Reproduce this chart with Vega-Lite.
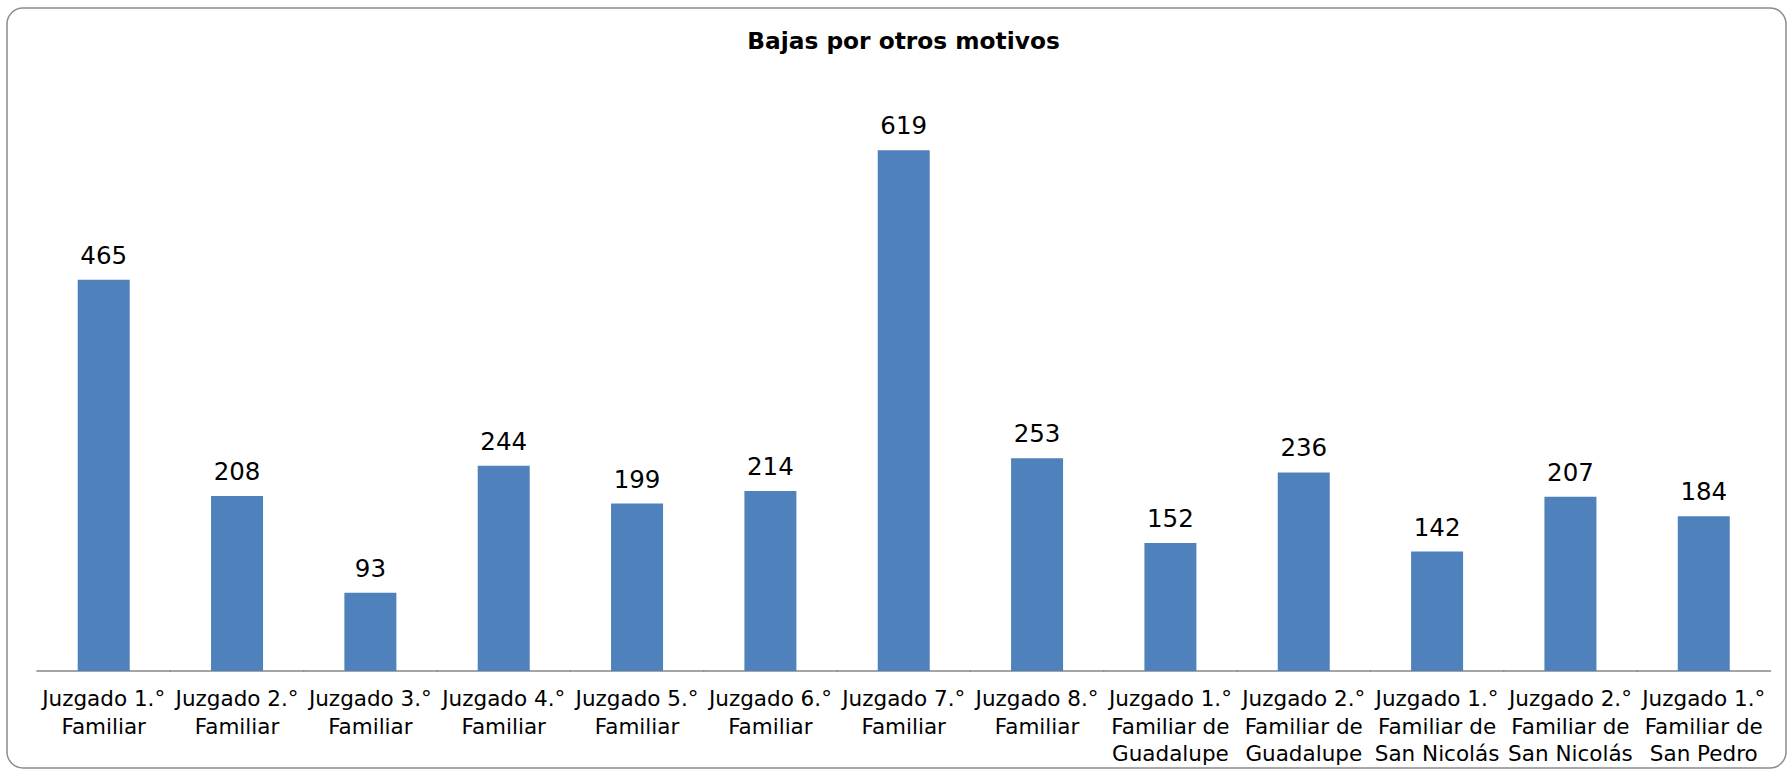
{
  "$schema": "https://vega.github.io/schema/vega-lite/v6.json",
  "width": 1779,
  "height": 760,
  "autosize": {"type": "none"},
  "padding": {"left": 7, "top": 8, "right": 1, "bottom": 3},
  "background": "white",
  "config": {
    "view": {"stroke": "#8c8c8c", "strokeWidth": 1.5, "cornerRadius": 16},
    "font": "DejaVu Sans"
  },
  "title": {
    "text": "Bajas por otros motivos",
    "font": "DejaVu Sans",
    "fontSize": 23.3,
    "fontWeight": "bold",
    "color": "black",
    "anchor": "middle",
    "baseline": "alphabetic",
    "offset": -64,
    "dx": 7
  },
  "data": {
    "values": [
      {"juzgado": "Juzgado 1.° Familiar", "bajas": 465},
      {"juzgado": "Juzgado 2.° Familiar", "bajas": 208},
      {"juzgado": "Juzgado 3.° Familiar", "bajas": 93},
      {"juzgado": "Juzgado 4.° Familiar", "bajas": 244},
      {"juzgado": "Juzgado 5.° Familiar", "bajas": 199},
      {"juzgado": "Juzgado 6.° Familiar", "bajas": 214},
      {"juzgado": "Juzgado 7.° Familiar", "bajas": 619},
      {"juzgado": "Juzgado 8.° Familiar", "bajas": 253},
      {"juzgado": "Juzgado 1.° Familiar de Guadalupe", "bajas": 152},
      {"juzgado": "Juzgado 2.° Familiar de Guadalupe", "bajas": 236},
      {"juzgado": "Juzgado 1.° Familiar de San Nicolás", "bajas": 142},
      {"juzgado": "Juzgado 2.° Familiar de San Nicolás", "bajas": 207},
      {"juzgado": "Juzgado 1.° Familiar de San Pedro", "bajas": 184}
    ]
  },
  "encoding": {
    "x": {
      "field": "juzgado",
      "type": "nominal",
      "sort": null,
      "scale": {"paddingInner": 0.61, "paddingOuter": 0.476, "align": 0.557},
      "axis": {
        "title": null,
        "offset": -97,
        "ticks": false,
        "domain": false,
        "labelAngle": 0,
        "labelFont": "DejaVu Sans",
        "labelFontSize": 21.5,
        "labelColor": "black",
        "labelPadding": 17.5,
        "labelLineHeight": 27.5,
        "labelLimit": 0,
        "labelOverlap": false,
        "labelExpr": "split(replace(replace(datum.value, ' Familiar', '|Familiar'), 'de ', 'de|'), '|')"
      }
    },
    "y": {
      "field": "bajas",
      "type": "quantitative",
      "scale": {"domain": [-115.3, 788], "nice": false, "zero": false},
      "axis": null
    }
  },
  "layer": [
    {
      "mark": {"type": "rule", "color": "#868686", "strokeWidth": 1.5},
      "encoding": {
        "x": {"field": "juzgado", "type": "nominal", "sort": null, "bandPosition": -0.795},
        "x2": {"field": "juzgado", "bandPosition": 1.795},
        "y": {"datum": 0, "type": "quantitative"}
      }
    },
    {
      "mark": {"type": "bar", "color": "#4F81BD"},
      "encoding": {"y2": {"datum": 0}}
    },
    {
      "mark": {
        "type": "text",
        "font": "DejaVu Sans",
        "fontSize": 24.5,
        "color": "black",
        "baseline": "alphabetic",
        "dy": -16
      },
      "encoding": {"text": {"field": "bajas", "type": "quantitative"}}
    }
  ]
}
